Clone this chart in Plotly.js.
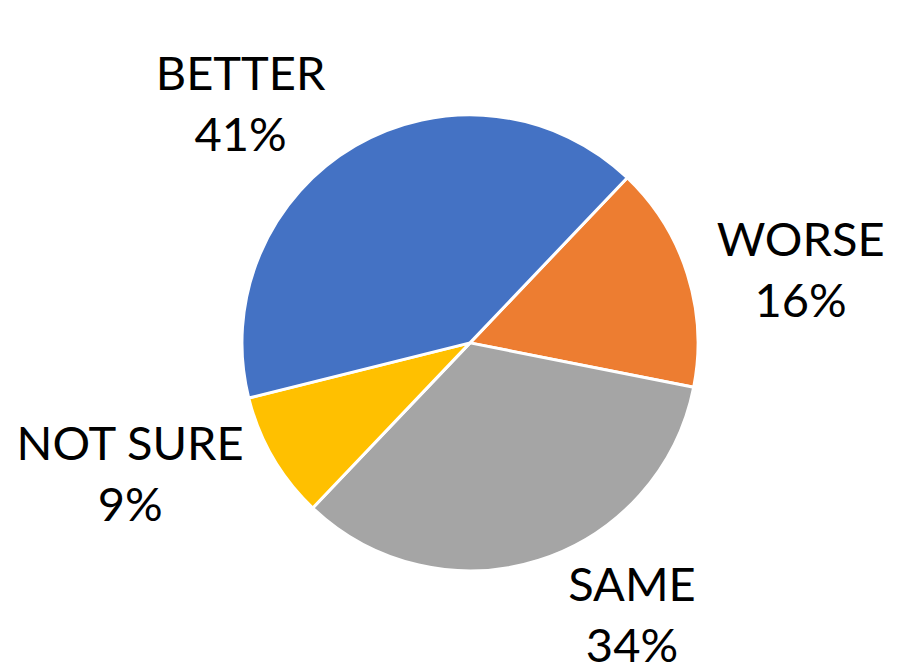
<!DOCTYPE html>
<html>
<head>
<meta charset="utf-8">
<script src="https://cdn.plot.ly/plotly-3.0.1.min.js"></script>
<style>html,body{margin:0;padding:0;background:#fff}#chart{width:921px;height:671px}</style>
</head>
<body>
<div id="chart"></div>
<script>
const categories = ['WORSE', 'SAME', 'NOT SURE', 'BETTER'];
const values = [16, 34, 9, 41];
const colors = ['#ED7D31', '#A5A5A5', '#FFC000', '#4472C4'];

const trace = {
  type: 'pie',
  labels: categories,
  values: values,
  sort: false,
  direction: 'clockwise',
  rotation: 43.6,
  domain: {x: [0.2627, 0.7579], y: [0.149, 0.829]},
  marker: {colors: colors, line: {color: '#ffffff', width: 3}},
  textposition: 'outside',
  texttemplate: '%{label}<br>%{percent:.0%}',
  textfont: {family: 'Lato, "Open Sans", sans-serif', size: 47, color: '#000'},
  automargin: false,
  showlegend: false,
  hoverinfo: 'label+percent'
};

const layout = {
  width: 921, height: 671,
  margin: {l: 0, r: 0, t: 0, b: 0},
  paper_bgcolor: '#fff',
  showlegend: false
};

Plotly.newPlot('chart', [trace], layout, {displayModeBar: false, staticPlot: true});
</script>
</body>
</html>
